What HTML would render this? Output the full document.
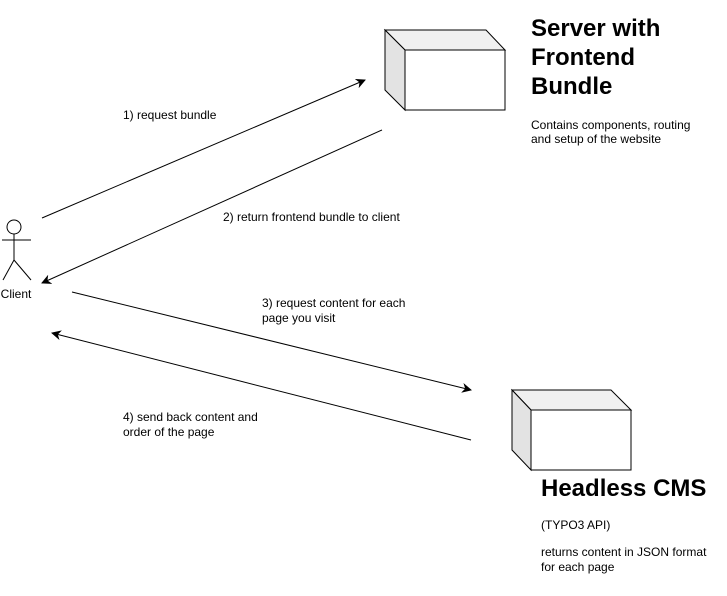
<!DOCTYPE html>
<html><head><style>
body{margin:0;background:#fff;width:727px;height:591px;overflow:hidden;font-family:"Liberation Sans",sans-serif;}
</style></head><body>
<svg width="727" height="591" xmlns="http://www.w3.org/2000/svg" font-family="Liberation Sans, sans-serif">
<defs><marker id="a" markerWidth="10" markerHeight="10" refX="9" refY="5" orient="auto" markerUnits="userSpaceOnUse"><path d="M0,0 L10,5 L0,10 L3,5 z" fill="#000"/></marker></defs>
<polygon points="385,30 486,30 505,50 405,50" fill="#f0f0f0" stroke="#000" stroke-width="1"/>
<polygon points="385,30 405,50 405,110 385,90" fill="#e3e3e3" stroke="#000" stroke-width="1"/>
<rect x="405" y="50" width="100" height="60" fill="#fff" stroke="#000" stroke-width="1"/>
<polygon points="512,390 611,390 631,410 531,410" fill="#f0f0f0" stroke="#000" stroke-width="1"/>
<polygon points="512,390 531,410 531,470 512,450" fill="#e3e3e3" stroke="#000" stroke-width="1"/>
<rect x="531" y="410" width="100" height="60" fill="#fff" stroke="#000" stroke-width="1"/>
<g stroke="#000" fill="none" stroke-width="1">
<circle cx="14" cy="227" r="7" fill="#fff"/>
<line x1="14" y1="234" x2="14" y2="260"/>
<line x1="2" y1="240" x2="31" y2="240"/>
<line x1="14" y1="260" x2="3" y2="280"/>
<line x1="14" y1="260" x2="31" y2="280"/>
</g>
<text x="16" y="298" font-size="12" text-anchor="middle">Client</text>
<g stroke="#000" stroke-width="1">
<line x1="42" y1="218" x2="365" y2="80" marker-end="url(#a)"/>
<line x1="382" y1="130" x2="42" y2="283" marker-end="url(#a)"/>
<line x1="72" y1="292" x2="471" y2="390" marker-end="url(#a)"/>
<line x1="471" y1="440" x2="52" y2="333" marker-end="url(#a)"/>
</g>
<g font-size="12" fill="#000">
<text x="123" y="119">1) request bundle</text>
<text x="223" y="221">2) return frontend bundle to client</text>
<text x="262" y="307">3) request content for each</text>
<text x="262" y="322">page you visit</text>
<text x="123" y="421">4) send back content and</text>
<text x="123" y="436">order of the page</text>
<text x="531" y="129">Contains components, routing</text>
<text x="531" y="143">and setup of the website</text>
<text x="541" y="529">(TYPO3 API)</text>
<text x="541" y="556">returns content in JSON format</text>
<text x="541" y="571">for each page</text>
</g>
<g font-size="24" font-weight="bold">
<text x="531" y="36">Server with</text>
<text x="531" y="65">Frontend</text>
<text x="531" y="94">Bundle</text>
<text x="541" y="496">Headless CMS</text>
</g>
</svg>
</body></html>
